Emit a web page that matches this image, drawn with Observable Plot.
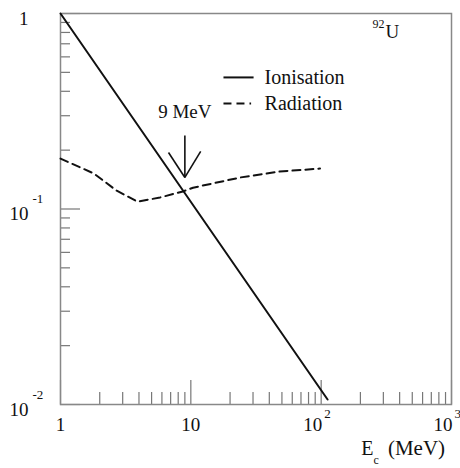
<!DOCTYPE html>
<html><head><meta charset="utf-8">
<script src="https://cdn.jsdelivr.net/npm/d3@7"></script>
<script src="https://cdn.jsdelivr.net/npm/@observablehq/plot@0.6"></script>
<style>body{margin:0;background:#fff}</style>
</head><body><div id="chart"></div>
<script>
// Energy loss of electrons in uranium (92U)
const ionEnergy = [1, 112];
const ionValue = [1, 0.0106];
const radEnergy = [1, 1.8, 2.7, 3.9, 5.8, 8.7, 10.4, 24, 48, 98];
const radValue = [0.181, 0.152, 0.124, 0.109, 0.1145, 0.123, 0.1285, 0.145, 0.1555, 0.161];

const xTicks = [1, 10, 100, 1000];
const xTickBase = ["1", "10", "10", "10"];
const xTickExp = ["", "", "2", "3"];
const yTicks = [1, 0.1, 0.01];
const yTickBase = ["1", "10", "10"];
const yTickExp = ["", "-1", "-2"];
const xMinor = [2,3,4,5,6,7,8,9,20,30,40,50,60,70,80,90,200,300,400,500,600,700,800,900];
const yMinor = [0.02,0.03,0.04,0.05,0.06,0.07,0.08,0.09,0.2,0.3,0.4,0.5,0.6,0.7,0.8,0.9];

const seriesNames = ["Ionisation", "Radiation"];
const elementSymbol = "U";
const massNumber = "92";
const arrowLabel = "9 MeV";
const arrowEnergy = 9;
const xTitleMain = "E";
const xTitleSub = "c";
const xTitleUnit = "(MeV)";

const ion = ionEnergy.map((e, i) => ({e, v: ionValue[i]}));
const rad = radEnergy.map((e, i) => ({e, v: radValue[i]}));
const xLab = xTicks.map((v, i) => ({v, base: xTickBase[i], exp: xTickExp[i]}));
const yLab = yTicks.map((v, i) => ({v, base: yTickBase[i], exp: yTickExp[i]}));

const W = 460, H = 468, mL = 60, mR = 9, mT = 13, mB = 64;
const fw = W - mL - mR, fh = H - mT - mB;
const ink = "#111";
const font = "Liberation Serif, Times New Roman, serif";

// annotation anchors (data coordinates)
const legend = [
  {name: seriesNames[0], x1: 17.8, x2: 30.3, y: 0.471, dash: null},
  {name: seriesNames[1], x1: 17.8, x2: 29.0, y: 0.346, dash: "8,5"}
];
const arrowTip = {x: arrowEnergy, y: 0.145};
const arrowSegs = [
  {x1: arrowEnergy, y1: 0.238, x2: arrowTip.x, y2: arrowTip.y},
  {x1: 6.74, y1: 0.1945, x2: arrowTip.x, y2: arrowTip.y},
  {x1: 11.9, y1: 0.197, x2: arrowTip.x, y2: arrowTip.y}
];

const chart = Plot.plot({
  width: W, height: H,
  marginLeft: mL, marginRight: mR, marginTop: mT, marginBottom: mB,
  style: {fontFamily: font, color: ink, background: "#fff"},
  x: {type: "log", domain: [1, 1000], axis: null},
  y: {type: "log", domain: [0.01, 1], axis: null},
  marks: [
    // ticks (inside)
    Plot.tickY(yMinor, {y: d => d, insetRight: fw - 10, stroke: "#777", strokeWidth: 1.2}),
    Plot.tickY(yTicks, {y: d => d, insetRight: fw - 20, stroke: "#777", strokeWidth: 1.2}),
    Plot.tickX(xMinor, {x: d => d, insetTop: fh - 12, stroke: "#777", strokeWidth: 1.2}),
    Plot.tickX(xTicks, {x: d => d, insetTop: fh - 24, stroke: "#777", strokeWidth: 1.2}),
    Plot.frame({stroke: "#888", strokeWidth: 1.5}),
    // curves
    Plot.line(ion, {x: "e", y: "v", stroke: ink, strokeWidth: 2}),
    Plot.line(rad, {x: "e", y: "v", stroke: ink, strokeWidth: 2, strokeDasharray: "8,5"}),
    // arrow
    Plot.link(arrowSegs, {x1: "x1", y1: "y1", x2: "x2", y2: "y2", stroke: ink, strokeWidth: 1.6}),
    Plot.text([arrowLabel], {x: arrowEnergy, y: 0.315, text: d => d, fontSize: 19, fill: ink}),
    // legend
    Plot.link(legend.filter(d => !d.dash), {x1: "x1", x2: "x2", y1: "y", y2: "y", stroke: ink, strokeWidth: 2}),
    Plot.link(legend.filter(d => d.dash), {x1: "x1", x2: "x2", y1: "y", y2: "y", stroke: ink, strokeWidth: 2, strokeDasharray: "8,5"}),
    Plot.text(legend, {x: 36.8, y: "y", text: "name", textAnchor: "start", fontSize: 20, fill: ink}),
    // element label
    Plot.text([elementSymbol], {x: 312, y: 0.804, text: d => d, textAnchor: "start", fontSize: 19, fill: ink}),
    Plot.text([massNumber], {x: 312, y: 0.884, text: d => d, textAnchor: "end", dx: -1, fontSize: 12, fill: ink}),
    // y tick labels
    Plot.text(yLab, {frameAnchor: "left", y: "v", text: "base", textAnchor: "end", dx: -32, dy: 5, fontSize: 19, fill: ink}),
    Plot.text(yLab, {frameAnchor: "left", y: "v", text: "exp", textAnchor: "start", dx: -28, dy: -10, fontSize: 13, fill: ink}),
    // x tick labels
    Plot.text(xLab.filter(d => !d.exp), {frameAnchor: "bottom", x: "v", text: "base", dy: 26, fontSize: 19, fill: ink}),
    Plot.text(xLab.filter(d => d.exp), {frameAnchor: "bottom", x: "v", text: "base", textAnchor: "end", dx: 1, dy: 26, fontSize: 19, fill: ink}),
    Plot.text(xLab.filter(d => d.exp), {frameAnchor: "bottom", x: "v", text: "exp", textAnchor: "start", dx: 3, dy: 13, fontSize: 13, fill: ink}),
    // x axis title
    Plot.text([xTitleMain], {frameAnchor: "bottom-right", text: d => d, textAnchor: "end", dx: -78, dy: 50, fontSize: 20, fill: ink}),
    Plot.text([xTitleSub], {frameAnchor: "bottom-right", text: d => d, textAnchor: "start", dx: -78, dy: 59, fontSize: 12, fill: ink}),
    Plot.text([xTitleUnit], {frameAnchor: "bottom-right", text: d => d, textAnchor: "middle", dx: -35, dy: 50, fontSize: 21, fill: ink})
  ]
});
document.getElementById("chart").appendChild(chart);
</script>
</body></html>
